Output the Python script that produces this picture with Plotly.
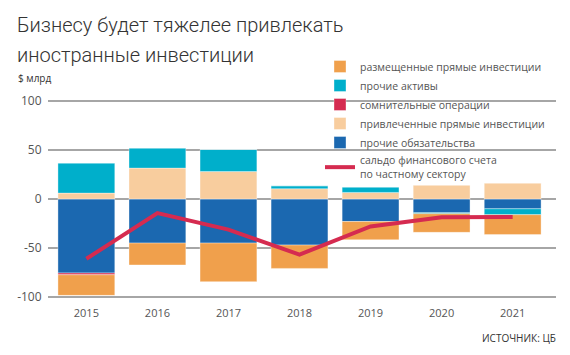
import plotly.graph_objects as go

years = ["2015", "2016", "2017", "2018", "2019", "2020", "2021"]
other_liab = [-75.5, -45, -45, -47, -23, -14, -10]        # прочие обязательства
fdi_in = [6, 31.5, 28, 10.5, 6.7, 14.2, 16.3]              # привлеченные прямые инвестиции
other_assets = [30.5, 20.5, 22.5, 3, 5.5, -1, -6]          # прочие активы
dubious = [-1.8, 0, 0, 0, 0, 0, 0]                         # сомнительные операции
fdi_out = [-21, -22.3, -39.3, -23.8, -18.6, -19, -20.3]    # размещенные прямые инвестиции
balance = [-61, -14.3, -31.2, -56.7, -28, -18.7, -18.4]    # сальдо финансового счета

title_lines = ["Бизнесу будет тяжелее привлекать", "иностранные инвестиции"]

C_ORANGE = "#F0A04C"
C_TEAL = "#00AFCB"
C_RED = "#D52B50"
C_PEACH = "#F8CD9E"
C_BLUE = "#1B68B0"

FONT = "Open Sans"
GRAY = "#555555"

L, R, T, B = 48, 14, 99, 56
W, H = 570, 355
PW, PH = W - L - R, H - T - B

def px_x(p):
    return (p - L) / PW

def px_y(p):
    return 1 + (T - p) / PH

fig = go.Figure()

def bar(name, vals, color, rank):
    fig.add_trace(go.Bar(
        x=years, y=vals, name=name,
        marker=dict(color=color, line=dict(color="rgba(255,255,255,0.6)", width=0.6)),
        legendrank=rank,
    ))

bar("прочие обязательства", other_liab, C_BLUE, 5)
bar("привлеченные прямые инвестиции", fdi_in, C_PEACH, 4)
bar("прочие активы", other_assets, C_TEAL, 2)
bar("сомнительные операции", dubious, C_RED, 3)
bar("размещенные прямые инвестиции", fdi_out, C_ORANGE, 1)

fig.add_trace(go.Scatter(
    x=years, y=balance, mode="lines",
    name="сальдо финансового счета<br>по частному сектору",
    line=dict(color=C_RED, width=4),
    legendrank=6,
))

title_anns = [
    dict(
        text=t, xref="paper", yref="paper", x=px_x(15), y=px_y(cy),
        xanchor="left", yanchor="middle", align="left", showarrow=False,
        font=dict(family="Roboto", size=20, color="#333333", weight=300),
    )
    for t, cy in zip(title_lines, [25, 55])
]

fig.update_layout(
    width=W, height=H,
    margin=dict(l=L, r=R, t=T, b=B, autoexpand=False),
    barmode="relative",
    bargap=0.2,
    plot_bgcolor="white",
    paper_bgcolor="white",
    font=dict(family=FONT, size=11, color=GRAY),
    showlegend=True,
    legend=dict(
        x=px_x(320), y=px_y(52), xanchor="left", yanchor="top",
        bgcolor="rgba(0,0,0,0)",
        font=dict(family=FONT, size=10.5, color=GRAY),
        tracegroupgap=0,
        itemwidth=30,
    ),
    xaxis=dict(
        range=[-0.54, 6.61],
        showgrid=False, zeroline=False, showline=False,
        ticks="outside", ticklen=4, tickcolor="rgba(0,0,0,0)",
        tickfont=dict(family=FONT, size=11, color=GRAY),
    ),
    yaxis=dict(
        range=[-102, 102],
        tickvals=[-100, -50, 0, 50, 100],
        ticktext=["-100", "-50", "0", "50", "100"],
        showgrid=True, gridcolor="#A6A6A6", gridwidth=1.5,
        zeroline=True, zerolinecolor="#A6A6A6", zerolinewidth=1.5,
        showline=False,
        tickfont=dict(family=FONT, size=12, color=GRAY),
        ticks="outside", ticklen=3, tickcolor="rgba(0,0,0,0)",
    ),
    annotations=title_anns + [
        dict(
            text="$ млрд",
            xref="paper", yref="paper", x=px_x(16), y=px_y(78),
            xanchor="left", yanchor="middle", showarrow=False,
            font=dict(family=FONT, size=10, color="#333333"),
        ),
        dict(
            text="ИСТОЧНИК: ЦБ",
            xref="paper", yref="paper", x=px_x(558), y=px_y(338),
            xanchor="right", yanchor="middle", showarrow=False,
            font=dict(family=FONT, size=10, color="#333333"),
        ),
    ],
)

fig.write_html("out.html", post_script="document.body.style.margin='0';",
               config={"displayModeBar": False})
